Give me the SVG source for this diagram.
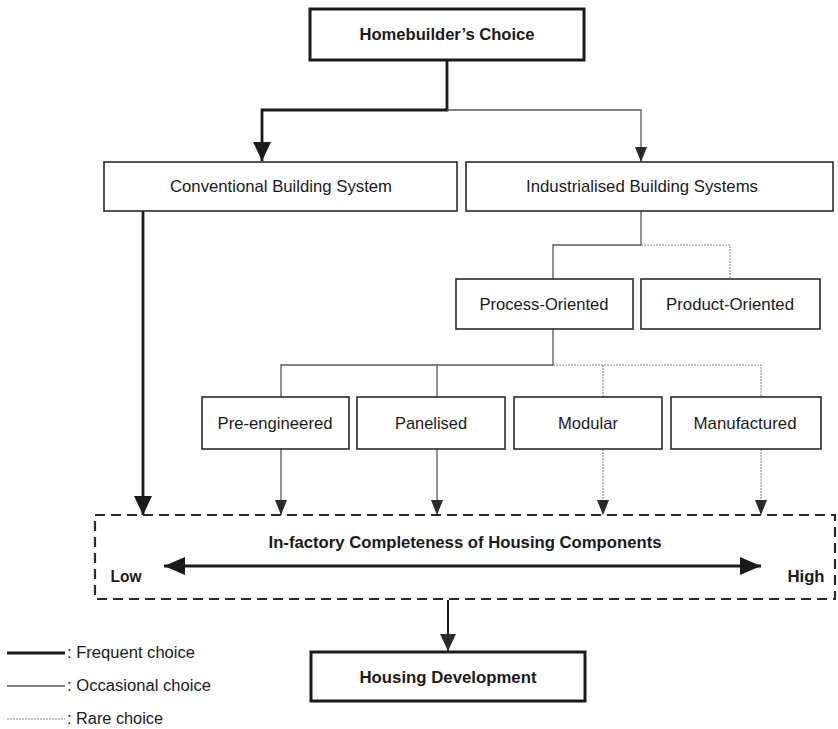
<svg xmlns="http://www.w3.org/2000/svg" width="838" height="729" viewBox="0 0 838 729">
  <style>
    .box { fill: #ffffff; stroke: #2a2a2a; stroke-width: 1.6; }
    .box-strong { fill: #ffffff; stroke: #1a1a1a; stroke-width: 3; }
    .lbl { font-family: "Liberation Sans", Arial, sans-serif; font-size: 17px; fill: #1a1a1a; text-anchor: middle; }
    .lbl-b { font-family: "Liberation Sans", Arial, sans-serif; font-size: 16px; font-weight: bold; fill: #1a1a1a; text-anchor: middle; }
    .leg { font-family: "Liberation Sans", Arial, sans-serif; font-size: 16px; fill: #1a1a1a; }
    .frequent { fill: none; stroke: #1a1a1a; stroke-width: 2.8; }
    .occasional { fill: none; stroke: #555555; stroke-width: 1.3; }
    .rare { fill: none; stroke: #8a8a8a; stroke-width: 1.1; stroke-dasharray: 2 1; }
    .frame { fill: none; stroke: #2a2a2a; stroke-width: 2.2; stroke-dasharray: 10 6; }
  </style>
  <defs>
    <marker id="headBig" markerUnits="userSpaceOnUse" markerWidth="20" markerHeight="20" viewBox="0 0 20 20" refX="19" refY="10" orient="auto">
      <path d="M0,1 L19,10 L0,19 Z" fill="#1a1a1a"/>
    </marker>
    <marker id="headSmall" markerUnits="userSpaceOnUse" markerWidth="16" markerHeight="14" viewBox="0 0 16 14" refX="15" refY="7" orient="auto">
      <path d="M0,1 L15,7 L0,13 Z" fill="#2a2a2a"/>
    </marker>
    <marker id="headMid" markerUnits="userSpaceOnUse" markerWidth="18" markerHeight="18" viewBox="0 0 18 18" refX="17" refY="9" orient="auto">
      <path d="M0,1 L17,9 L0,17 Z" fill="#2a2a2a"/>
    </marker>
    <marker id="headRange" markerUnits="userSpaceOnUse" markerWidth="22" markerHeight="20" viewBox="0 0 22 20" refX="21" refY="10" orient="auto">
      <path d="M0,1 L21,10 L0,19 Z" fill="#1a1a1a"/>
    </marker>
    <marker id="headRangeStart" markerUnits="userSpaceOnUse" markerWidth="22" markerHeight="20" viewBox="0 0 22 20" refX="1" refY="10" orient="auto">
      <path d="M22,1 L1,10 L22,19 Z" fill="#1a1a1a"/>
    </marker>
  </defs>

  <rect width="838" height="729" fill="#ffffff"/>

  <!-- connectors -->
  <g id="connectors">
    <!-- top split -->
    <path class="frequent" d="M447,60 V110 H262 V161" marker-end="url(#headBig)"/>
    <path class="occasional" d="M447,110 H641 V162" marker-end="url(#headSmall)"/>
    <!-- conventional straight down -->
    <path class="frequent" d="M143,211 V515" marker-end="url(#headBig)"/>
    <!-- industrialised split -->
    <path class="occasional" d="M641,211 V245 H553 V279"/>
    <path class="rare" d="M641,245 H730 V279"/>
    <!-- process-oriented split -->
    <path class="occasional" d="M553,329 V365 H281 V397"/>
    <path class="occasional" d="M437,365 V397"/>
    <path class="rare" d="M553,365 H761 V397"/>
    <path class="rare" d="M603,365 V397"/>
    <!-- down into completeness frame -->
    <path class="occasional" d="M281,449 V515" marker-end="url(#headSmall)"/>
    <path class="occasional" d="M437,449 V515" marker-end="url(#headSmall)"/>
    <path class="rare" d="M603,449 V515" marker-end="url(#headSmall)"/>
    <path class="rare" d="M761,449 V515" marker-end="url(#headSmall)"/>
    <!-- to housing development -->
    <path fill="none" stroke="#1a1a1a" stroke-width="2" d="M448,600 V651" marker-end="url(#headMid)"/>
  </g>

  <g id="homebuilders-choice">
    <rect class="box-strong" x="310" y="9" width="274" height="51"/>
    <text class="lbl-b" x="447" y="40" textLength="175" lengthAdjust="spacingAndGlyphs">Homebuilder’s Choice</text>
  </g>

  <g id="conventional">
    <rect class="box" x="104" y="162" width="353" height="49"/>
    <text class="lbl" x="281" y="192" textLength="222" lengthAdjust="spacingAndGlyphs">Conventional Building System</text>
  </g>

  <g id="industrialised">
    <rect class="box" x="466" y="162" width="367" height="49"/>
    <text class="lbl" x="642" y="192" textLength="232" lengthAdjust="spacingAndGlyphs">Industrialised Building Systems</text>
  </g>

  <g id="process-oriented">
    <rect class="box" x="456" y="279" width="177" height="50"/>
    <text class="lbl" x="544" y="310" textLength="129" lengthAdjust="spacingAndGlyphs">Process-Oriented</text>
  </g>

  <g id="product-oriented">
    <rect class="box" x="641" y="279" width="179" height="50"/>
    <text class="lbl" x="730" y="310" textLength="128" lengthAdjust="spacingAndGlyphs">Product-Oriented</text>
  </g>

  <g id="pre-engineered">
    <rect class="box" x="202" y="397" width="147" height="52"/>
    <text class="lbl" x="275" y="429" textLength="115" lengthAdjust="spacingAndGlyphs">Pre-engineered</text>
  </g>

  <g id="panelised">
    <rect class="box" x="357" y="397" width="148" height="52"/>
    <text class="lbl" x="431" y="429" textLength="72" lengthAdjust="spacingAndGlyphs">Panelised</text>
  </g>

  <g id="modular">
    <rect class="box" x="514" y="397" width="148" height="52"/>
    <text class="lbl" x="588" y="429" textLength="60" lengthAdjust="spacingAndGlyphs">Modular</text>
  </g>

  <g id="manufactured">
    <rect class="box" x="671" y="397" width="150" height="52"/>
    <text class="lbl" x="745" y="429" textLength="103" lengthAdjust="spacingAndGlyphs">Manufactured</text>
  </g>

  <g id="completeness">
    <rect class="frame" x="95" y="515" width="740" height="84"/>
    <text class="lbl-b" x="465" y="548" textLength="393" lengthAdjust="spacingAndGlyphs">In-factory Completeness of Housing Components</text>
    <path fill="none" stroke="#1a1a1a" stroke-width="3" d="M164,566 H761" marker-start="url(#headRangeStart)" marker-end="url(#headRange)"/>
    <text class="lbl-b" x="126" y="582" textLength="31" lengthAdjust="spacingAndGlyphs">Low</text>
    <text class="lbl-b" x="806" y="582" textLength="37" lengthAdjust="spacingAndGlyphs">High</text>
  </g>

  <g id="housing-development">
    <rect class="box-strong" x="311" y="652" width="274" height="49"/>
    <text class="lbl-b" x="448" y="683" textLength="177" lengthAdjust="spacingAndGlyphs">Housing Development</text>
  </g>

  <!-- key -->
  <g id="legend">
    <line class="frequent" x1="7" y1="653" x2="65" y2="653"/>
    <text class="leg" x="67" y="658" textLength="128" lengthAdjust="spacingAndGlyphs">: Frequent choice</text>
    <line class="occasional" x1="7" y1="686" x2="65" y2="686"/>
    <text class="leg" x="67" y="691" textLength="144" lengthAdjust="spacingAndGlyphs">: Occasional choice</text>
    <line class="rare" x1="7" y1="719" x2="65" y2="719"/>
    <text class="leg" x="67" y="724" textLength="96" lengthAdjust="spacingAndGlyphs">: Rare choice</text>
  </g>
</svg>
